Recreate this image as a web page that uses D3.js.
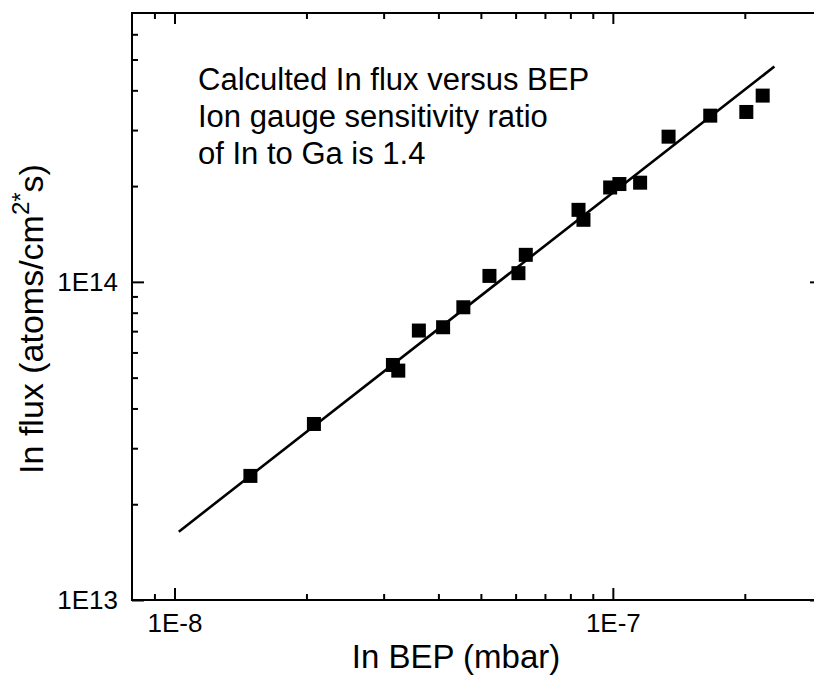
<!DOCTYPE html>
<html>
<head>
<meta charset="utf-8">
<script src="https://cdn.jsdelivr.net/npm/d3@7"></script>
<style>
  body { margin: 0; background: #fff; }
  svg { display: block; font-family: "Liberation Sans", Arial, sans-serif; }
</style>
</head>
<body>
<div id="chart"></div>
<script>
// measured points: BEP (mbar) vs In flux (atoms/cm^2*s)
const bep = [1.49e-8, 2.08e-8, 3.15e-8, 3.24e-8, 3.61e-8, 4.10e-8, 4.56e-8, 5.23e-8, 6.09e-8, 6.33e-8,
  8.35e-8, 8.57e-8, 9.86e-8, 1.035e-7, 1.154e-7, 1.34e-7, 1.668e-7, 2.016e-7, 2.197e-7]
const flux = [2.455e13, 3.575e13, 5.48e13, 5.26e13, 7.03e13, 7.20e13, 8.32e13, 1.044e14, 1.065e14, 1.216e14,
  1.684e14, 1.567e14, 1.98e14, 2.03e14, 2.05e14, 2.86e14, 3.33e14, 3.42e14, 3.85e14]

// linear fit (log-log), end points
const fitBep = [1.023e-8, 2.336e-7]
const fitFlux = [1.64e13, 4.75e14]

const xMajor = [1e-8, 1e-7]
const xMajorLabels = ['1E-8', '1E-7']
const xMinor = [9e-9, 2e-8, 3e-8, 4e-8, 5e-8, 6e-8, 7e-8, 8e-8, 9e-8, 2e-7]
const yMajor = [1e13, 1e14]
const yMajorLabels = ['1E13', '1E14']
const yMinor = [2e13, 3e13, 4e13, 5e13, 6e13, 7e13, 8e13, 9e13, 2e14, 3e14, 4e14, 5e14, 6e14]

const note = ['Calculted In flux versus BEP', 'Ion gauge sensitivity ratio', 'of In to Ga is 1.4']

const W = 814, H = 677
const MARGIN = { TOP: 13, LEFT: 132 }
const PW = 690, PH = 587   // right frame edge falls just outside the window

const svg = d3.select('#chart').append('svg')
  .attr('width', W)
  .attr('height', H)

const g = svg.append('g')
  .attr('transform', `translate(${MARGIN.LEFT}, ${MARGIN.TOP})`)

const x = d3.scaleLog().domain([8e-9, 3e-7]).range([0, PW])
const y = d3.scaleLog().domain([1e13, 7e14]).range([PH, 0])

function styleAxis(sel) {
  sel.select('.domain').remove()
  sel.selectAll('.tick line').attr('stroke', '#000').attr('stroke-width', 2)
  sel.selectAll('.tick text')
    .attr('fill', '#000')
    .attr('font-size', 26)
    .attr('font-family', '"Liberation Sans", Arial, sans-serif')
}

// bottom
g.append('g').attr('transform', `translate(0, ${PH})`)
  .call(d3.axisBottom(x).tickValues(xMajor).tickFormat((d, i) => xMajorLabels[i])
    .tickSizeInner(-12).tickSizeOuter(0).tickPadding(14))
  .call(styleAxis)
g.append('g').attr('transform', `translate(0, ${PH})`)
  .call(d3.axisBottom(x).tickValues(xMinor).tickFormat('').tickSizeInner(-6).tickSizeOuter(0))
  .call(styleAxis)
// top
g.append('g')
  .call(d3.axisTop(x).tickValues(xMajor).tickFormat('').tickSizeInner(-11).tickSizeOuter(0))
  .call(styleAxis)
g.append('g')
  .call(d3.axisTop(x).tickValues(xMinor).tickFormat('').tickSizeInner(-6).tickSizeOuter(0))
  .call(styleAxis)
// left
g.append('g')
  .call(d3.axisLeft(y).tickValues(yMajor).tickFormat((d, i) => yMajorLabels[i])
    .tickSizeInner(-12).tickSizeOuter(0).tickPadding(14))
  .call(styleAxis)
g.append('g')
  .call(d3.axisLeft(y).tickValues(yMinor).tickFormat('').tickSizeInner(-6).tickSizeOuter(0))
  .call(styleAxis)
// right
g.append('g').attr('transform', `translate(${PW}, 0)`)
  .call(d3.axisRight(y).tickValues(yMajor).tickFormat('').tickSizeInner(-12).tickSizeOuter(0))
  .call(styleAxis)
g.append('g').attr('transform', `translate(${PW}, 0)`)
  .call(d3.axisRight(y).tickValues(yMinor).tickFormat('').tickSizeInner(-6).tickSizeOuter(0))
  .call(styleAxis)

// frame
g.append('rect')
  .attr('width', PW)
  .attr('height', PH)
  .attr('fill', 'none')
  .attr('stroke', '#000')
  .attr('stroke-width', 2)

// fit line
g.append('path')
  .datum(fitBep.map((b, i) => [b, fitFlux[i]]))
  .attr('fill', 'none')
  .attr('stroke', '#000')
  .attr('stroke-width', 2.6)
  .attr('d', d3.line().x(d => x(d[0])).y(d => y(d[1])))

// data squares
const S = 14
g.selectAll('rect.pt')
  .data(bep.map((b, i) => [b, flux[i]]))
  .enter()
  .append('rect')
    .attr('class', 'pt')
    .attr('x', d => x(d[0]) - S / 2)
    .attr('y', d => y(d[1]) - S / 2)
    .attr('width', S)
    .attr('height', S)
    .attr('fill', '#000')

// annotation
g.append('g').selectAll('text')
  .data(note)
  .enter()
  .append('text')
    .attr('x', 66)
    .attr('y', (d, i) => 77 + i * 37)
    .attr('font-size', 31)
    .attr('fill', '#000')
    .text(d => d)

// axis titles
svg.append('text')
  .attr('x', 456)
  .attr('y', 668)
  .attr('text-anchor', 'middle')
  .attr('font-size', 33)
  .text('In BEP (mbar)')

const yt = svg.append('text')
  .attr('transform', 'translate(43, 319) rotate(-90)')
  .attr('text-anchor', 'middle')
  .attr('font-size', 34)
yt.append('tspan').text('In flux (atoms/cm')
yt.append('tspan').attr('dy', -14).attr('font-size', 24).text('2*')
yt.append('tspan').attr('dy', 14).text('s)')
</script>
</body>
</html>
